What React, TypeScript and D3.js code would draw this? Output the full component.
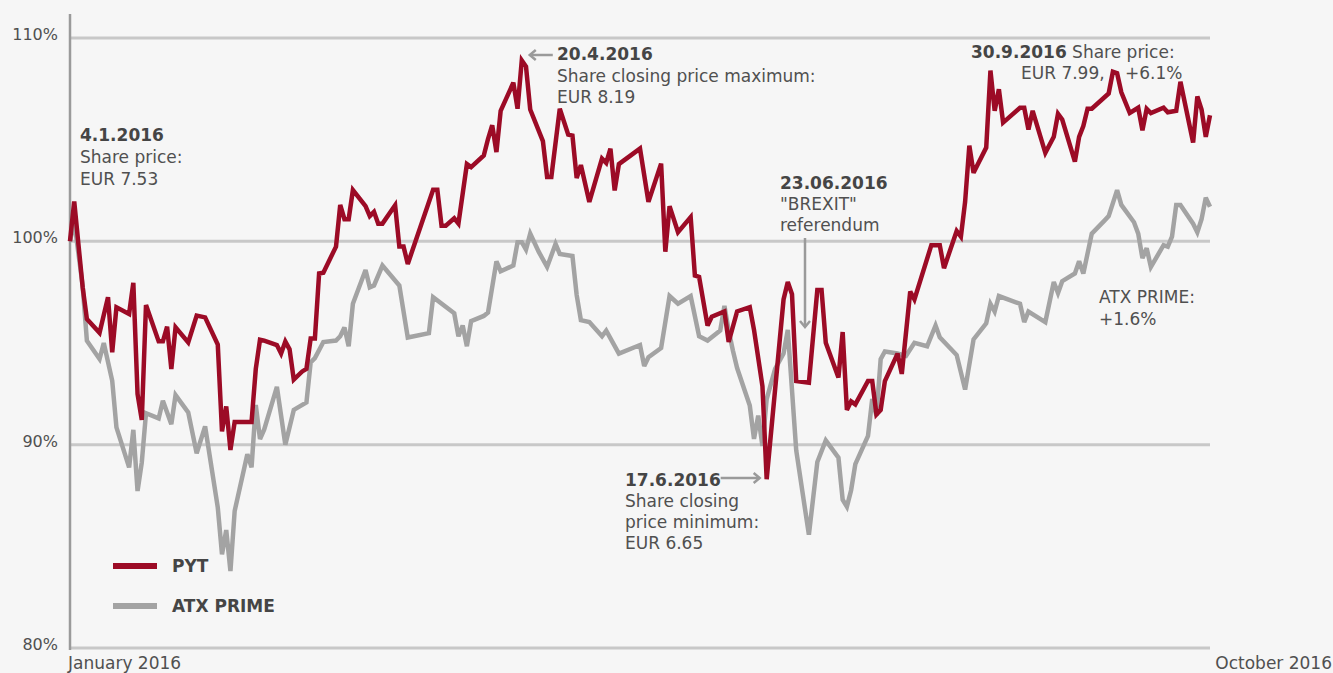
import React from 'react';
import * as d3 from 'd3';

// Days since 4 Jan 2016, and index value in % (4.1.2016 = 100)
const pytDays = [0, 1, 3, 4, 7, 9, 10, 11, 14, 15, 16, 17, 18, 21, 22, 23, 24, 25, 28, 30, 32, 35, 36, 37, 38, 39, 43, 44, 45, 46, 49, 50, 51, 52, 53, 55, 56, 57, 58, 59, 60, 63, 64, 65, 66, 67, 70, 71, 72, 73, 74, 77, 78, 79, 80, 86, 87, 88, 89, 91, 92, 94, 95, 98, 99, 100, 101, 102, 105, 106, 107, 108, 109, 112, 113, 114, 116, 118, 119, 120, 121, 123, 126, 127, 128, 129, 130, 135, 137, 140, 141, 142, 144, 147, 148, 149, 151, 152, 155, 156, 158, 161, 162, 164, 165, 169, 170, 171, 172, 175, 177, 178, 179, 182, 183, 184, 185, 186, 189, 190, 191, 192, 193, 196, 197, 199, 200, 204, 206, 207, 210, 211, 212, 213, 214, 217, 218, 219, 220, 221, 225, 226, 227, 228, 231, 233, 234, 235, 238, 239, 240, 241, 242, 246, 247, 248, 249, 251, 253, 254, 255, 256, 259, 260, 262, 263, 266, 267, 268, 269, 270];
const pytValues = [100.0, 101.96, 97.74, 96.18, 95.5, 97.25, 94.54, 96.76, 96.43, 97.96, 92.49, 91.22, 96.87, 95.08, 95.08, 95.8, 93.72, 95.77, 95.03, 96.35, 96.26, 94.92, 90.65, 91.88, 89.74, 91.12, 91.12, 93.72, 95.16, 95.12, 94.9, 94.48, 95.07, 94.69, 93.2, 93.6, 93.73, 95.22, 95.22, 98.42, 98.46, 99.74, 101.79, 101.09, 101.09, 102.52, 101.73, 101.24, 101.45, 100.87, 100.87, 101.77, 99.74, 99.74, 98.89, 102.54, 102.54, 100.77, 100.77, 101.13, 100.87, 103.8, 103.65, 104.22, 105.03, 105.71, 104.39, 106.42, 107.8, 106.52, 108.9, 108.6, 106.48, 104.93, 103.16, 103.16, 106.52, 105.25, 105.2, 103.11, 103.75, 101.94, 104.07, 103.86, 104.56, 102.5, 103.8, 104.56, 101.94, 103.82, 99.49, 101.73, 100.45, 101.19, 98.32, 98.25, 95.86, 96.29, 96.55, 95.05, 96.55, 96.76, 95.65, 92.88, 88.3, 97.14, 98.0, 97.4, 93.13, 93.05, 97.61, 97.61, 95.01, 93.3, 95.54, 91.71, 92.13, 91.98, 93.13, 93.13, 91.49, 91.71, 93.13, 94.48, 93.48, 97.53, 97.14, 99.81, 99.81, 98.68, 100.51, 100.23, 101.94, 104.71, 103.37, 104.61, 108.4, 106.42, 107.48, 105.84, 106.57, 106.57, 105.5, 106.42, 104.35, 105.14, 106.27, 105.99, 103.92, 105.14, 105.67, 106.52, 106.52, 107.27, 108.34, 108.27, 107.33, 106.31, 106.57, 105.46, 106.52, 106.31, 106.57, 106.35, 106.42, 107.85, 104.86, 107.12, 106.48, 105.14, 106.2];

const atxDays = [0, 1, 3, 4, 7, 8, 10, 11, 14, 15, 16, 17, 18, 21, 22, 24, 25, 28, 30, 32, 35, 36, 37, 38, 39, 42, 43, 44, 45, 46, 49, 51, 53, 56, 57, 58, 60, 63, 64, 65, 66, 67, 70, 71, 72, 74, 78, 80, 85, 86, 91, 92, 93, 94, 95, 98, 99, 101, 102, 105, 106, 107, 108, 109, 111, 113, 115, 116, 119, 120, 121, 123, 126, 127, 130, 135, 136, 137, 140, 142, 144, 147, 149, 151, 154, 155, 156, 157, 158, 161, 162, 163, 164, 165, 167, 169, 170, 172, 175, 177, 179, 182, 183, 184, 185, 186, 189, 190, 191, 192, 193, 196, 198, 200, 203, 205, 206, 210, 212, 214, 217, 218, 219, 220, 225, 226, 227, 231, 233, 234, 235, 238, 239, 240, 242, 245, 246, 248, 249, 252, 253, 254, 255, 256, 259, 260, 261, 262, 263, 266, 267, 268, 269, 270];
const atxValues = [100.0, 101.0, 97.8, 95.11, 94.21, 95.0, 93.14, 90.85, 88.88, 90.73, 87.72, 89.12, 91.55, 91.29, 92.16, 91.01, 92.44, 91.59, 89.58, 90.9, 86.91, 84.61, 85.8, 83.78, 86.74, 89.53, 88.88, 91.95, 90.28, 90.75, 92.84, 90.0, 91.71, 92.08, 94.05, 94.26, 95.05, 95.12, 95.33, 95.76, 94.84, 96.93, 98.59, 97.74, 97.83, 98.81, 97.83, 95.27, 95.48, 97.25, 96.46, 95.33, 95.86, 94.84, 96.08, 96.33, 96.5, 99.02, 98.53, 98.81, 99.96, 99.96, 99.59, 100.38, 99.49, 98.74, 99.87, 99.38, 99.28, 97.36, 96.12, 96.03, 95.33, 95.61, 94.48, 94.9, 93.87, 94.3, 94.75, 97.31, 96.93, 97.31, 95.33, 95.12, 95.61, 96.82, 95.61, 94.63, 93.77, 91.92, 90.28, 91.43, 89.94, 92.24, 93.73, 94.48, 95.65, 89.72, 85.57, 89.15, 90.21, 89.36, 87.29, 86.95, 87.76, 89.04, 90.43, 92.24, 91.43, 94.2, 94.58, 94.48, 94.37, 95.01, 94.84, 95.86, 95.28, 94.41, 92.71, 95.18, 95.97, 96.93, 96.55, 97.31, 96.93, 96.03, 96.55, 96.03, 98.0, 97.46, 98.04, 98.42, 99.02, 98.42, 100.38, 101.02, 101.24, 102.52, 101.79, 100.94, 100.38, 99.17, 99.66, 98.74, 99.81, 99.74, 100.23, 101.79, 101.79, 100.87, 100.45, 101.09, 102.15, 101.7];

const yTicks = [80, 90, 100, 110];
const seriesNames = ['PYT', 'ATX PRIME'];
const seriesColors = ['#9c0b26', '#a3a3a3'];

const W = 1333;
const H = 673;
const start = new Date(2016, 0, 4);
const end = new Date(2016, 8, 30);
const FONT = '"DejaVu Sans", sans-serif';
const TXT = '#505050';
const ARROW = '#9a9a9a';

const toPoints = (days: number[], vals: number[]) =>
  days.map((d, i) => ({ date: d3.timeDay.offset(start, d), v: vals[i] }));

const App = () => {
  const x = d3.scaleTime().domain([start, end]).range([70, 1210]);
  const y = d3.scaleLinear().domain([80, 110]).range([648, 38]);

  const line = d3.line<{ date: Date; v: number }>()
    .x(d => x(d.date))
    .y(d => y(d.v));

  const pyt = toPoints(pytDays, pytValues);
  const atx = toPoints(atxDays, atxValues);

  const at = (m: number, d: number) => x(new Date(2016, m - 1, d));

  const text = (t: string, tx: number, ty: number, bold = false, anchor = 'start') => (
    <text x={tx} y={ty} fontWeight={bold ? 'bold' : 'normal'} textAnchor={anchor}
      fill={bold ? '#454545' : TXT}>{t}</text>
  );

  return (
    <svg width={W} height={H} style={{ position: 'absolute', left: 0, top: 0, background: '#f6f6f6' }}
      fontFamily={FONT} fontSize={17}>
      <rect width={W} height={H} fill="#f6f6f6" />

      {/* gridlines */}
      {yTicks.map(t => (
        <g key={t}>
          <line x1={70} x2={1210} y1={y(t)} y2={y(t)} stroke="#c8c8c8" strokeWidth={3} />
          <text x={58} y={y(t) + 2} textAnchor="end" fontSize={16} fill={TXT}>{t}%</text>
        </g>
      ))}
      <line x1={70} x2={70} y1={14} y2={650} stroke="#9a9a9a" strokeWidth={2.5} />

      {text('January 2016', 68, 669)}
      {text('October 2016', 1332, 669, false, 'end')}

      {/* series */}
      <path d={line(atx) ?? ''} fill="none" stroke={seriesColors[1]} strokeWidth={4.5} strokeLinejoin="miter" strokeMiterlimit={3} />
      <path d={line(pyt) ?? ''} fill="none" stroke={seriesColors[0]} strokeWidth={4.5} strokeLinejoin="miter" strokeMiterlimit={3} />

      {/* legend */}
      {seriesNames.map((n, i) => (
        <g key={n} transform={`translate(113,${566 + i * 40})`}>
          <line x1={0} x2={44} y1={0} y2={0} stroke={seriesColors[i]} strokeWidth={6} />
          <text x={59} y={6} fontWeight="bold" fill="#454545">{n}</text>
        </g>
      ))}

      {/* annotations */}
      {text('4.1.2016', 80, 141, true)}
      {text('Share price:', 80, 163)}
      {text('EUR 7.53', 80, 185)}

      <g stroke={ARROW} strokeWidth={2.5} fill="none">
        <line x1={at(4, 20) + 8} x2={at(4, 20) + 31} y1={55} y2={55} />
        <polyline points={`${at(4, 20) + 14},50 ${at(4, 20) + 8},55 ${at(4, 20) + 14},60`} />
        <line x1={at(6, 17) - 46} x2={at(6, 17) - 7} y1={478} y2={478} />
        <polyline points={`${at(6, 17) - 13},473 ${at(6, 17) - 7},478 ${at(6, 17) - 13},483`} />
        <line x1={805} x2={805} y1={238} y2={327} />
        <polyline points={`800,321 805,327 810,321`} />
      </g>

      {text('20.4.2016', 557, 60, true)}
      {text('Share closing price maximum:', 557, 82)}
      {text('EUR 8.19', 557, 103)}

      {text('23.06.2016', 780, 189, true)}
      {text('"BREXIT"', 780, 210)}
      {text('referendum', 780, 231)}

      {text('17.6.2016', 625, 486, true)}
      {text('Share closing', 625, 507)}
      {text('price minimum:', 625, 528)}
      {text('EUR 6.65', 625, 549)}

      <text x={971} y={58} fill={TXT}>
        <tspan fontWeight="bold" fill="#454545">30.9.2016</tspan> Share price:
      </text>
      {text('EUR 7.99,', 1021, 79)}
      {text('+6.1%', 1125, 79)}

      {text('ATX PRIME:', 1099, 303)}
      {text('+1.6%', 1099, 325)}
    </svg>
  );
};

export default App;
